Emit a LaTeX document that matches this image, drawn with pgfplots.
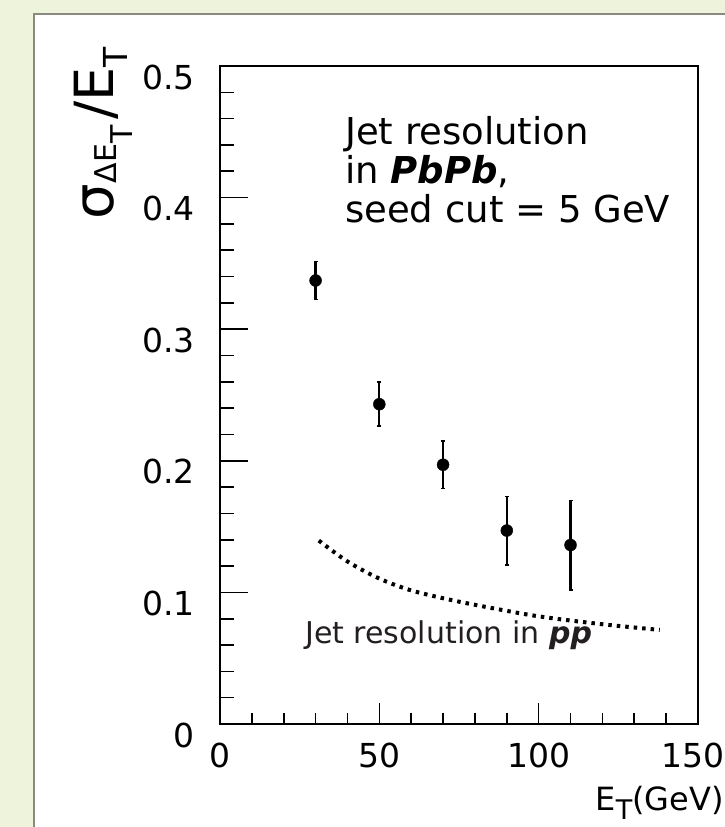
\documentclass[border=0pt]{standalone}
\usepackage{fontspec}
\setmainfont{DejaVu Sans}
\usepackage{pgfplots}
\pgfplotsset{compat=1.18}
\definecolor{bggreen}{RGB}{238,243,220}
\definecolor{panelborder}{RGB}{138,138,128}
\definecolor{txtgray}{RGB}{35,31,32}
\begin{document}
\begin{tikzpicture}
\fill[bggreen] (-220pt,-103pt) rectangle (505pt,724pt);
\filldraw[fill=white, draw=panelborder, line width=1.5pt] (-186pt,-130pt) rectangle (540pt,710pt);
\begin{axis}[
  at={(0pt,0pt)}, anchor=south west,
  scale only axis, width=478pt, height=658pt,
  xmin=0, xmax=150, ymin=0, ymax=0.5,
  xtick=\empty,
  ytick={0,0.1,0.2,0.3,0.4,0.5},
  minor y tick num=4,
  ytick pos=left,
  tick align=inside,
  major tick length=28pt, minor tick length=14pt,
  axis line style={line width=1.6pt},
  tick style={black, line width=1.6pt},
  /pgf/number format/assume math mode=true,
  yticklabel style={font=\fontsize{33}{39}\selectfont, anchor=east, inner sep=0pt, xshift=-25pt, yshift=-11pt,
    /pgf/number format/fixed, /pgf/number format/precision=1},
  ylabel={{\fontsize{56}{60}\selectfont σ}{\fontsize{30}{34}\selectfont\kern1pt\raisebox{-3pt}{ΔE}\raisebox{-19pt}{T}\kern6pt}{\fontsize{54}{60}\selectfont /E}{\fontsize{33}{36}\selectfont\raisebox{-14pt}{T}}},
  ylabel style={at={(axis description cs:-0.2238,1.0289)}, anchor=base east, inner sep=0pt},
]
\addplot[no marks, line width=4pt, dash pattern=on 3.5pt off 5pt, smooth] coordinates {
  (31,0.1394) (40,0.1235) (50,0.1105) (60,0.1015) (72,0.0945) (84,0.0887)
  (100,0.0818) (120,0.0758) (138,0.0715)
};
\addplot[only marks, mark=*, mark size=6pt, black,
  error bars/.cd, y dir=both, y explicit,
  error bar style={line width=2.2pt},
  error mark options={rotate=90, mark size=2pt, line width=1.5pt}]
coordinates {
  (30,0.337) +- (0,0.0145)
  (50,0.243) +- (0,0.0167)
  (70,0.197) +- (0,0.018)
  (90,0.147) +- (0,0.026)
  (110,0.136) +- (0,0.034)
};
\node[anchor=base west, inner sep=0pt, font=\fontsize{37}{42}\selectfont] at (rel axis cs:0.2615,0.880) {Jet resolution};
\node[anchor=base west, inner sep=0pt, font=\fontsize{37}{42}\selectfont] at (rel axis cs:0.2615,0.8207) {in \textbf{\textit{PbPb}},};
\node[anchor=base west, inner sep=0pt, font=\fontsize{37}{42}\selectfont] at (rel axis cs:0.2615,0.7614) {seed cut = 5 GeV};
\node[anchor=base west, inner sep=0pt, text=txtgray, font=\fontsize{30}{36}\selectfont] at (rel axis cs:0.1778,0.1231) {Jet resolution in \textbf{\textit{pp}}};
\end{axis}
\begin{axis}[
  at={(0pt,0pt)}, anchor=south west,
  scale only axis, width=478pt, height=658pt,
  xmin=0, xmax=150, ymin=0, ymax=0.5,
  ytick=\empty,
  xtick={0,50,100,150},
  xticklabels={0,50,100,{\kern-10pt 150}},
  minor x tick num=4,
  xtick pos=bottom,
  tick align=inside,
  major tick length=21pt, minor tick length=10.5pt,
  axis line style={line width=1.6pt},
  tick style={black, line width=1.6pt},
  /pgf/number format/assume math mode=true,
  xticklabel style={font=\fontsize{33}{39}\selectfont, anchor=north, inner sep=0pt, yshift=-19pt},
  xlabel={E\raisebox{-9pt}{\fontsize{27}{30}\selectfont T}(GeV)},
  xlabel style={at={(axis description cs:1.0544,-0.1307)}, anchor=base east, inner sep=0pt, font=\fontsize{32}{37}\selectfont},
]
\end{axis}
\pgfresetboundingbox
\path[use as bounding box] (-220pt,-103pt) rectangle (505pt,724pt);
\end{tikzpicture}
\end{document}
